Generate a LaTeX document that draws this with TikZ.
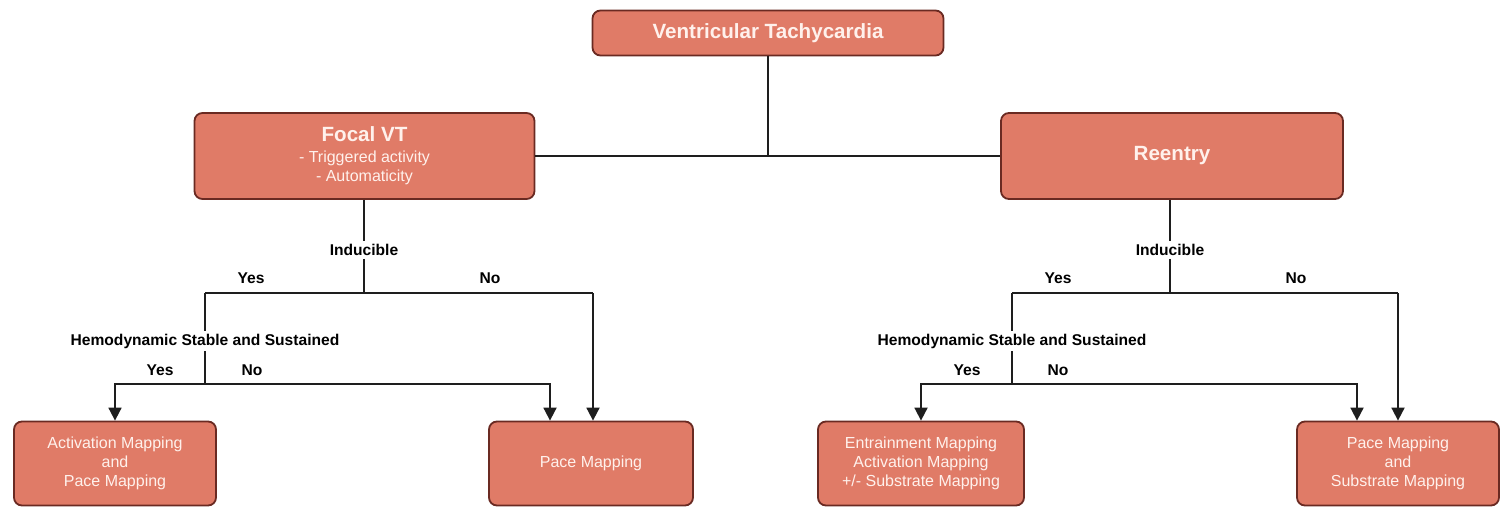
\documentclass[tikz,border=0pt]{standalone}
\usepackage{fontspec}
\setmainfont{Liberation Sans}
\usetikzlibrary{arrows.meta}
\definecolor{boxfill}{HTML}{E07B67}
\definecolor{boxedge}{HTML}{6A2A22}
\definecolor{boxtext}{HTML}{FFF1EC}
\definecolor{linecol}{HTML}{1E1E1E}
\begin{document}
\begin{tikzpicture}[x=1pt,y=-1pt,
  box/.style={draw=boxedge, line width=1.8pt, fill=boxfill, rounded corners=8pt,
    text=boxtext, align=center, inner sep=0pt},
  headfont/.style={font=\bfseries\fontsize{20.6}{23}\selectfont},
  bodyfont/.style={font=\fontsize{16}{19}\selectfont},
  lbl/.style={font=\bfseries\fontsize{15.6}{18}\selectfont, inner xsep=1pt, inner ysep=3pt, text=black},
  conn/.style={line width=1.8pt, draw=linecol},
  arr/.style={conn, -{Triangle[width=13pt,length=13pt]}}]
\useasboundingbox (0,0) rectangle (1501,507);

% top level
\node[box, headfont, minimum width=351pt, minimum height=45pt] (vt) at (768,33) {Ventricular Tachycardia};
\node[box, bodyfont, minimum width=340pt, minimum height=86pt] (focal) at (364.5,156)
  {{\bfseries\fontsize{20.6}{23}\selectfont Focal VT}\\[2pt]
   - Triggered activity\\
   - Automaticity};
\node[box, headfont, minimum width=342pt, minimum height=86pt] (reentry) at (1172,156) {Reentry};

\coordinate (top) at (768,155);
\draw[conn] (vt.south) -- (top);
\draw[conn] (focal.east) -- (reentry.west);

% bottom boxes
\node[box, bodyfont, minimum width=202pt, minimum height=84pt] (actpace) at (115,463.5)
  {Activation Mapping\\ and\\ Pace Mapping};
\node[box, bodyfont, minimum width=204pt, minimum height=84pt] (pace) at (591,463.5) {Pace Mapping};
\node[box, bodyfont, minimum width=206pt, minimum height=84pt] (entr) at (921,463.5)
  {Entrainment Mapping\\ Activation Mapping\\ +/- Substrate Mapping};
\node[box, bodyfont, minimum width=202pt, minimum height=84pt] (pacesub) at (1398,463.5)
  {Pace Mapping\\ and\\ Substrate Mapping};

% ---- left branch ----
\node[lbl] (ind1) at (364,250) {Inducible};
\node[lbl] (yes1) at (251,278) {Yes};
\node[lbl] (no1) at (490,278) {No};
\node[lbl] (hemo1) at (205,341) {Hemodynamic Stable and Sustained};
\node[lbl] (yes2) at (160,370) {Yes};
\node[lbl] (no2) at (252,370) {No};

\coordinate (j1) at (364,293);
\coordinate (j1l) at (205,293);
\coordinate (j1r) at (593,293);
\coordinate (k1) at (205,384);
\coordinate (k1r) at (550,384);

\draw[conn] (focal.south -| j1) -- (ind1.north);
\draw[conn] (ind1.south) -- (j1);
\draw[conn] (j1l) -- (j1r);
\draw[arr] (j1r) -- (j1r |- pace.north);
\draw[conn] (j1l) -- (j1l |- hemo1.north);
\draw[conn] (hemo1.south -| k1) -- (k1);
\draw[arr] (k1) -| (actpace.north);
\draw[arr] (k1) -- (k1r) -- (k1r |- pace.north);

% ---- right branch ----
\node[lbl] (ind2) at (1170,250) {Inducible};
\node[lbl] (yes3) at (1058,278) {Yes};
\node[lbl] (no3) at (1296,278) {No};
\node[lbl] (hemo2) at (1012,341) {Hemodynamic Stable and Sustained};
\node[lbl] (yes4) at (967,370) {Yes};
\node[lbl] (no4) at (1058,370) {No};

\coordinate (j2) at (1170,293);
\coordinate (j2l) at (1012,293);
\coordinate (j2r) at (1398,293);
\coordinate (k2) at (1012,384);
\coordinate (k2r) at (1357,384);

\draw[conn] (reentry.south -| j2) -- (ind2.north);
\draw[conn] (ind2.south) -- (j2);
\draw[conn] (j2l) -- (j2r);
\draw[arr] (j2r) -- (j2r |- pacesub.north);
\draw[conn] (j2l) -- (j2l |- hemo2.north);
\draw[conn] (hemo2.south -| k2) -- (k2);
\draw[arr] (k2) -| (entr.north);
\draw[arr] (k2) -- (k2r) -- (k2r |- pacesub.north);
\end{tikzpicture}
\end{document}
